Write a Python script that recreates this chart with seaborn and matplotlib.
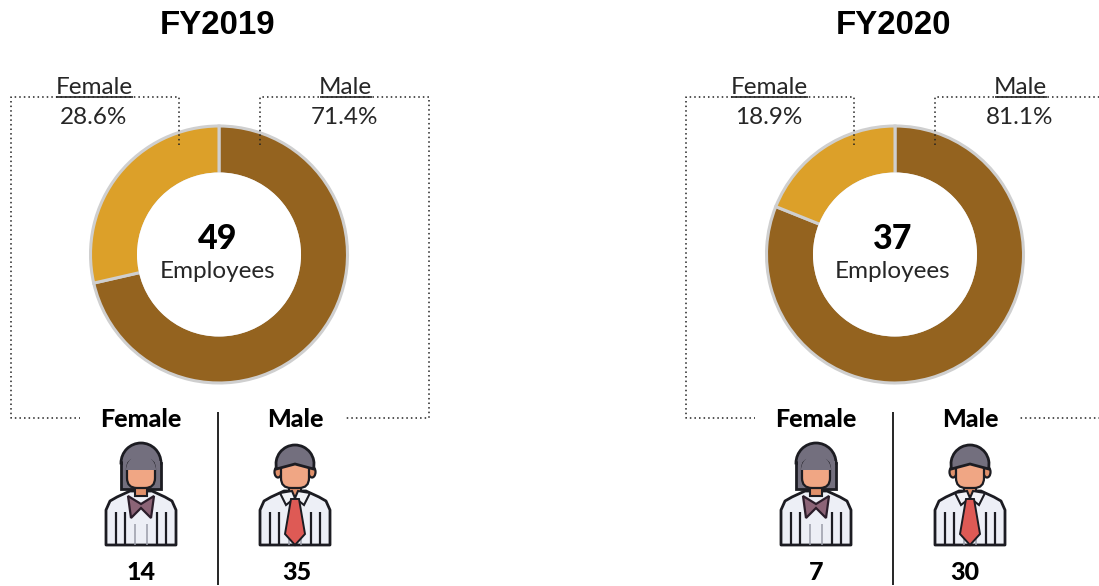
import matplotlib
matplotlib.use("Agg")
import matplotlib.pyplot as plt
import seaborn as sns
from matplotlib.patches import Polygon, FancyBboxPatch, Ellipse, Wedge, Rectangle, Circle

sns.set_theme(style="white")
plt.rcParams['font.family'] = ['Lato', 'DejaVu Sans']

W, H = 1099, 586
years = ["FY2019", "FY2020"]
categories = ["Male", "Female"]
male_counts = [35, 30]
female_counts = [14, 7]
male_share = [71.4, 81.1]
female_share = [28.6, 18.9]
totals = [49, 37]
male_count_x = [297, 965]
palette = sns.color_palette(["#94631F", "#DCA029"])
EDGE = "#CFCFCF"
INK = "#262626"
HAIR = "#736F7E"
SKIN = "#F0A684"
OUT = "#1c1c22"

fig = plt.figure(figsize=(W/100, H/100), dpi=100)
ax = fig.add_axes([0, 0, 1, 1])

def Y(y):
    return H - y

def line(xs, ys, **kw):
    ax.plot(xs, [Y(v) for v in ys], solid_capstyle="butt", **kw)

def body(cx, top):
    """Shirt shared by both icons; cx = icon centre, top = icon top pixel."""
    ol = dict(edgecolor=OUT, linewidth=2, joinstyle="round")
    pts = [(-35, 103), (-35, 68), (-31, 59), (-24, 55), (-11, 49), (11, 49), (24, 55), (31, 59), (35, 68), (35, 103)]
    ax.add_patch(Polygon([(cx+x, Y(top+y)) for x, y in pts], closed=True, facecolor="#EDEFF6", zorder=3, **ol))
    for dx in (-25, -16, 16, 25):
        line([cx+dx, cx+dx], [top+70, top+103], color=OUT, lw=1.6, zorder=4)
    for dx in (-6, 6):
        line([cx+dx, cx+dx], [top+82, top+103], color="#9a9ca8", lw=1.1, zorder=4)

def face(cx, top, ears):
    if ears:
        for s in (-1, 1):
            ax.add_patch(Ellipse((cx+s*17, Y(top+30)), 7, 11, facecolor="#E0906A", edgecolor=OUT, lw=1.6, zorder=5))
    ax.add_patch(Polygon([(cx-6, Y(top+40)), (cx+6, Y(top+40)), (cx+6, Y(top+54)), (cx-6, Y(top+54))],
                         facecolor="#E0906A", edgecolor=OUT, lw=1.5, zorder=5))
    ax.add_patch(FancyBboxPatch((cx-14, Y(top+46)), 28, 29, boxstyle="round,pad=0,rounding_size=10",
                                facecolor=SKIN, edgecolor=OUT, lw=1.6, zorder=6))

def female_icon(cx, top):
    ax.add_patch(Wedge((cx, Y(top+21)), 20, 0, 180, facecolor=HAIR, edgecolor=OUT, lw=2, zorder=2))
    ax.add_patch(Rectangle((cx-20, Y(top+47)), 40, 26, facecolor=HAIR, edgecolor=OUT, lw=2, zorder=2))
    ax.add_patch(Rectangle((cx-18.5, Y(top+27)), 37, 8, facecolor=HAIR, edgecolor="none", zorder=2))
    body(cx, top)
    face(cx, top, False)
    ax.add_patch(Wedge((cx, Y(top+28)), 15, 0, 180, facecolor=HAIR, edgecolor="none", zorder=7))
    bow = [(-13, 54), (0, 62), (13, 54), (10, 76), (0, 66), (-10, 76)]
    ax.add_patch(Polygon([(cx+x, Y(top+y)) for x, y in bow], facecolor="#8C6477", edgecolor="#2b1d2a", lw=1.6, zorder=8))

def male_icon(cx, top):
    body(cx, top)
    face(cx, top, True)
    ax.add_patch(Wedge((cx, Y(top+22)), 19, -15, 195, facecolor=HAIR, edgecolor=OUT, lw=2, zorder=7))
    for s in (-1, 1):
        col = [(s*3, 49), (s*15, 51), (s*9, 63), (0, 56)]
        ax.add_patch(Polygon([(cx+x, Y(top+y)) for x, y in col], facecolor="#F1F2F7", edgecolor=OUT, lw=1.5, zorder=8))
    tie = [(-4, 57), (4, 57), (10, 92), (0, 103), (-10, 92)]
    ax.add_patch(Polygon([(cx+x, Y(top+y)) for x, y in tie], facecolor="#DE5A55", edgecolor=OUT, lw=1.4, zorder=8))

dot = dict(color="#222222", lw=1.1, linestyle=(0, (1, 2)))

for i, dx in enumerate([0, 675]):
    pc = 219 + dx + i
    ax.pie([male_counts[i], female_counts[i]], colors=palette, startangle=90, counterclock=False,
           center=(pc, Y(254.5)), radius=128.5, frame=True,
           wedgeprops=dict(width=48, edgecolor=EDGE, linewidth=2.2))
    ax.add_patch(Circle((pc, Y(254.5)), 82, facecolor="white", edgecolor="none", zorder=3))
    ax.text(218+dx, Y(26), years[i], ha="center", va="center", fontsize=23.8, fontweight="bold",
            family=["Liberation Sans"], color="black")
    ax.text(218+dx, Y(239), str(totals[i]), ha="center", va="center", fontsize=24.5, fontweight="black", color="black", zorder=5)
    ax.text(218+dx, Y(271), "Employees", ha="center", va="center", fontsize=17.5, color=INK, zorder=5)

    # callouts
    line([179+dx, 179+dx, 11+dx, 11+dx, 80+dx], [145, 97, 97, 418, 418], **dot)
    line([260+dx, 260+dx, 429+dx, 429+dx, 344+dx], [145, 97, 97, 418, 418], **dot)
    ax.text(95+dx-1, Y(88), "Female", ha="center", va="center", fontsize=17.5, color=INK)
    ax.text(346+dx-1, Y(88), "Male", ha="center", va="center", fontsize=17.5, color=INK)
    line([56+dx, 133+dx], [97, 97], color=INK, lw=1.2)
    line([320+dx, 372+dx], [97, 97], color=INK, lw=1.2)
    ax.text(95+dx-1, Y(117), f"{female_share[i]}%", ha="center", va="center", fontsize=17.5, color=INK)
    ax.text(346+dx-1, Y(117), f"{male_share[i]}%", ha="center", va="center", fontsize=17.5, color=INK)

    # lower panel
    line([218+dx, 218+dx], [412, 585], color="black", lw=1.2)
    ax.text(141+dx, Y(419.5), "Female", ha="center", va="center", fontsize=18, fontweight="black", color="black")
    ax.text(295+dx, Y(419.5), "Male", ha="center", va="center", fontsize=18, fontweight="black", color="black")
    female_icon(141+dx, 442)
    male_icon(295+dx, 442)
    ax.text(141+dx, Y(572), str(female_counts[i]), ha="center", va="center", fontsize=18, fontweight="black", color="black")
    ax.text(male_count_x[i], Y(572), str(male_counts[i]), ha="center", va="center", fontsize=18, fontweight="black", color="black")

ax.set_xlim(0, W)
ax.set_ylim(0, H)
ax.set_aspect("auto")
ax.axis("off")
fig.savefig("out.png", dpi=100, facecolor="white")
